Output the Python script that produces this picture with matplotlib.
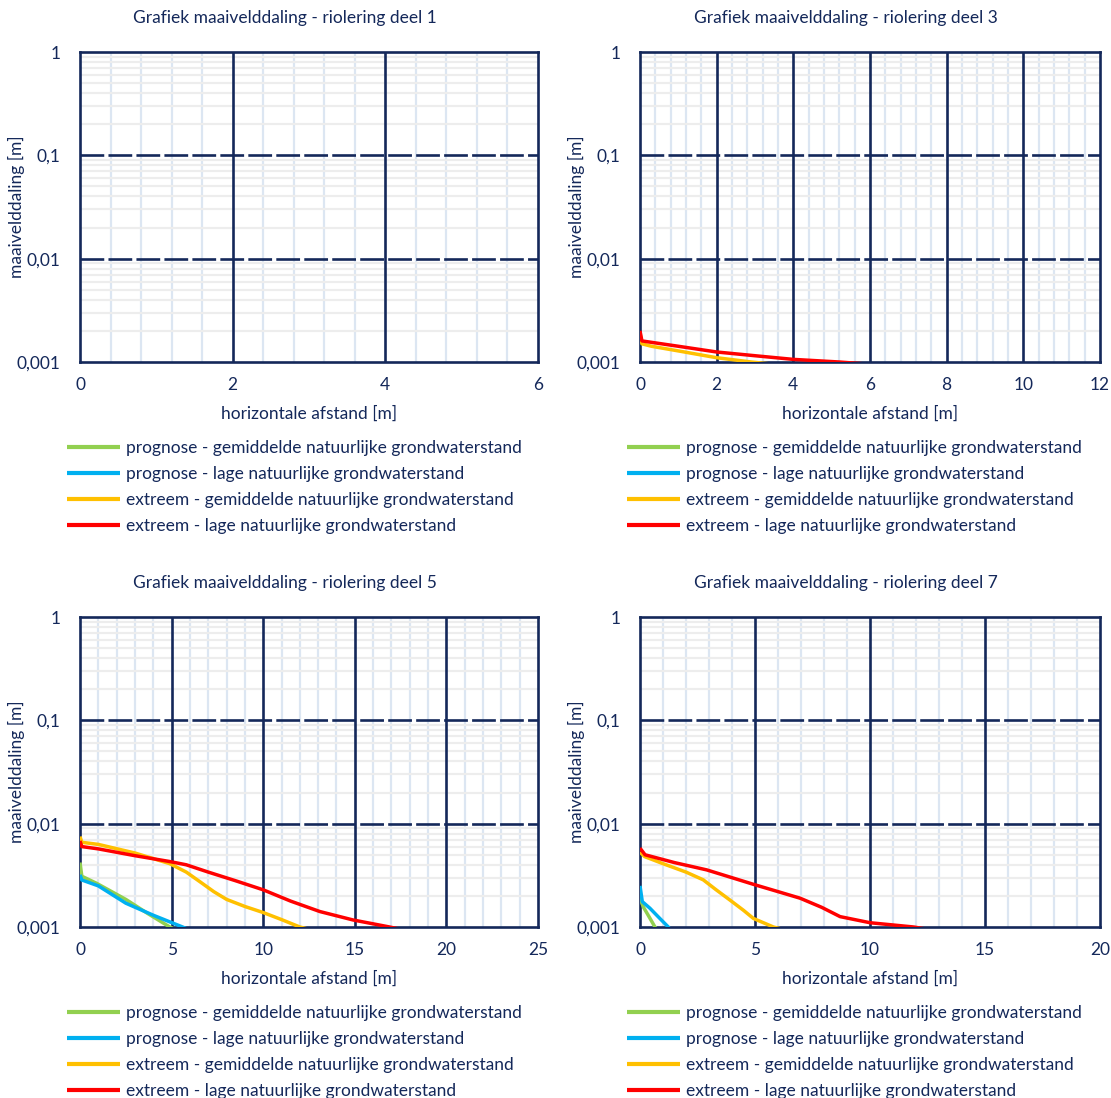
import numpy as np
import matplotlib
matplotlib.use("Agg")
import matplotlib.pyplot as plt
from matplotlib.ticker import FixedLocator, MultipleLocator, FuncFormatter, LogLocator

plt.rcParams['font.family'] = ['Lato', 'DejaVu Sans']

navy = '#14285a'
series_names = [
    "prognose - gemiddelde natuurlijke grondwaterstand",
    "prognose - lage natuurlijke grondwaterstand",
    "extreem - gemiddelde natuurlijke grondwaterstand",
    "extreem - lage natuurlijke grondwaterstand",
]
series_colors = ['#92d050', '#00b0f0', '#ffc000', '#ff0000']

titles = [
    "Grafiek maaivelddaling - riolering deel 1",
    "Grafiek maaivelddaling - riolering deel 3",
    "Grafiek maaivelddaling - riolering deel 5",
    "Grafiek maaivelddaling - riolering deel 7",
]
x_max = [6, 12, 25, 20]
x_major = [2, 2, 5, 5]
x_minor = [0.4, 0.4, 1, 1]
y_major = [0.001, 0.01, 0.1, 1]

# deel 1: no settlement above 0.001 m
d1 = [([], []), ([], []), ([], []), ([], [])]

# deel 3
d3_green_x = [0.0, 0.5]
d3_green_y = [0.0009, 0.0005]
d3_blue_x = [0.0, 0.5]
d3_blue_y = [0.0009, 0.0005]
d3_yellow_x = [0.0, 0.05, 0.3, 1.0, 2.0, 2.9, 3.5]
d3_yellow_y = [0.0019, 0.0015, 0.00142, 0.00128, 0.0011, 0.001, 0.00095]
d3_red_x = [0.0, 0.05, 0.3, 1.0, 2.0, 3.0, 4.0, 5.2, 6.0]
d3_red_y = [0.002, 0.0016, 0.00155, 0.00142, 0.00125, 0.00115, 0.00106, 0.001, 0.00095]

# deel 5
d5_green_x = [0.0, 0.1, 0.9, 2.5, 3.7, 4.9, 5.5]
d5_green_y = [0.0042, 0.0031, 0.00265, 0.00185, 0.00135, 0.001, 0.0009]
d5_blue_x = [0.0, 0.1, 1.0, 2.5, 4.0, 5.6, 6.2]
d5_blue_y = [0.0032, 0.00285, 0.0025, 0.0017, 0.0013, 0.001, 0.0009]
d5_yellow_x = [0.0, 0.1, 1.0, 3.0, 4.9, 5.8, 6.6, 7.3, 8.0, 9.0, 10.0, 11.0, 12.0, 12.5]
d5_yellow_y = [0.0075, 0.0066, 0.0063, 0.0052, 0.0041, 0.0034, 0.0027, 0.0022, 0.00185, 0.00158, 0.00138, 0.00118, 0.001, 0.00095]
d5_red_x = [0.0, 0.1, 1.0, 3.0, 4.9, 5.8, 7.0, 8.5, 10.0, 11.5, 13.1, 14.9, 16.9, 17.5]
d5_red_y = [0.0068, 0.006, 0.0057, 0.0049, 0.0043, 0.0040, 0.0034, 0.0028, 0.00229, 0.00178, 0.00141, 0.00117, 0.001, 0.00095]

# deel 7
d7_green_x = [0.0, 0.14, 0.4, 0.65, 0.8]
d7_green_y = [0.0019, 0.00157, 0.00125, 0.001, 0.0009]
d7_blue_x = [0.0, 0.1, 0.43, 0.8, 1.23, 1.4]
d7_blue_y = [0.0025, 0.00176, 0.00152, 0.00125, 0.001, 0.0009]
d7_yellow_x = [0.0, 0.2, 1.0, 2.0, 2.75, 3.3, 3.9, 4.5, 4.93, 5.8, 6.2]
d7_yellow_y = [0.0053, 0.0048, 0.0041, 0.0034, 0.00286, 0.0023, 0.00183, 0.00145, 0.00121, 0.001, 0.00095]
d7_red_x = [0.0, 0.22, 1.5, 2.9, 4.0, 5.0, 6.0, 6.96, 7.9, 8.7, 10.0, 11.9, 12.5]
d7_red_y = [0.0058, 0.005, 0.0042, 0.00357, 0.0030, 0.00256, 0.0022, 0.0019, 0.00155, 0.00126, 0.0011, 0.001, 0.00095]

panel_data = [
    d1,
    [(d3_green_x, d3_green_y), (d3_blue_x, d3_blue_y), (d3_yellow_x, d3_yellow_y), (d3_red_x, d3_red_y)],
    [(d5_green_x, d5_green_y), (d5_blue_x, d5_blue_y), (d5_yellow_x, d5_yellow_y), (d5_red_x, d5_red_y)],
    [(d7_green_x, d7_green_y), (d7_blue_x, d7_blue_y), (d7_yellow_x, d7_yellow_y), (d7_red_x, d7_red_y)],
]

W, H = 1111, 1098
FS = 12.5
fig = plt.figure(figsize=(W / 100, H / 100), dpi=100)

# axes boxes in pixels: left, right, top, bottom
boxes = [(80, 538, 52, 362), (640, 1100, 52, 362), (80, 538, 617, 927), (640, 1100, 617, 927)]


def yfmt(v, pos):
    return {1: "1", 0.1: "0,1", 0.01: "0,01", 0.001: "0,001"}.get(round(v, 6), "")


for i, (l, r, t, b) in enumerate(boxes):
    ax = fig.add_axes([l / W, 1 - b / H, (r - l) / W, (b - t) / H])
    ax.set_yscale('log')
    ax.set_ylim(0.001, 1)
    ax.set_xlim(0, x_max[i])

    for (xs, ys), c, name in zip(panel_data[i], series_colors, series_names):
        ax.plot(xs, ys, color=c, lw=2.5, label=name, solid_capstyle='butt', zorder=4)

    ax.xaxis.set_major_locator(MultipleLocator(x_major[i]))
    ax.xaxis.set_minor_locator(MultipleLocator(x_minor[i]))
    ax.yaxis.set_major_locator(FixedLocator(y_major))
    ax.yaxis.set_minor_locator(LogLocator(base=10, subs=np.arange(2, 10)))
    ax.yaxis.set_major_formatter(FuncFormatter(yfmt))
    ax.xaxis.set_major_formatter(FuncFormatter(lambda v, p: f"{v:g}"))

    # light minor grid below, dark major grid on top of it
    ax.grid(which='minor', axis='x', color='#dce6f2', lw=1.6)
    ax.grid(which='minor', axis='y', color='#ededed', lw=1.6)
    ax.set_axisbelow(True)
    for xv in np.arange(x_major[i], x_max[i], x_major[i]):
        ax.axvline(xv, color=navy, lw=1.9, zorder=2)
    for yv in y_major[1:-1]:
        ax.axhline(yv, color=navy, lw=1.9, ls=(0, (9, 1.6)), zorder=2)

    for s in ax.spines.values():
        s.set_color(navy)
        s.set_linewidth(1.9)
        s.set_zorder(3)
    ax.tick_params(which='both', length=0, colors=navy, labelsize=FS)
    ax.tick_params(axis='x', pad=11)
    ax.tick_params(axis='y', pad=14)

    ax.set_xlabel("horizontale afstand [m]", color=navy, fontsize=FS, labelpad=9)
    ax.set_ylabel("maaivelddaling [m]", color=navy, fontsize=FS)
    ax.yaxis.set_label_coords(-55 / (r - l), 0.5)

    cx = (l + r) / 2 - 24
    fig.text(cx / W, 1 - (t - 34) / H, titles[i], color=navy, fontsize=FS,
             ha='center', va='center')

    leg = ax.legend(loc='upper left', bbox_to_anchor=(-13 / (r - l), 1 - 388 / (b - t)),
                    frameon=False, fontsize=FS, handlelength=3.05, handletextpad=0.35,
                    labelspacing=0.58, borderpad=0, borderaxespad=0)
    for txt in leg.get_texts():
        txt.set_color(navy)
    for ln in leg.get_lines():
        ln.set_linewidth(3)

fig.savefig("out.png", dpi=100)
